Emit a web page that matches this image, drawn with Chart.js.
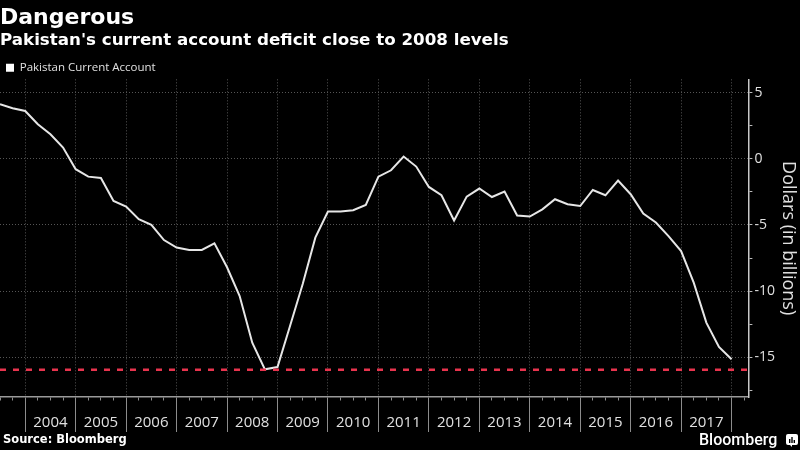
<!DOCTYPE html>
<html><head><meta charset="utf-8">
<script src="https://cdn.jsdelivr.net/npm/chart.js@4/dist/chart.umd.min.js"></script>
<style>
html,body{margin:0;padding:0;background:#000;}
#wrap{position:relative;width:800px;height:450px;background:#000;overflow:hidden;}
#c{position:absolute;left:0;top:0;}
#src{position:absolute;left:3px;top:434.3px;font:bold 11.5px/11.5px "DejaVu Sans";color:#fff;white-space:nowrap;}
#logo{position:absolute;left:699px;top:431.5px;font:500 16px/16px Roboto;color:#fff;white-space:nowrap;}
#icon{position:absolute;left:786px;top:434px;}
</style></head><body>
<div id="wrap">
<canvas id="c" width="800" height="450"></canvas>
<div id="src">Source: Bloomberg</div>
<div id="logo">Bloomberg</div>
<svg id="icon" width="12" height="13" viewBox="0 0 12 13"><rect x="0" y="0" width="12" height="11" rx="2" fill="#fff"/><path d="M4 11 L6 13 L6 11 Z" fill="#fff"/><rect x="3" y="5" width="1.4" height="4" fill="#000"/><rect x="5.3" y="3" width="1.4" height="6" fill="#000"/><rect x="7.6" y="6" width="1.4" height="3" fill="#000"/></svg>
</div>
<script>
// Quarter-end dates (year-month)
const quarters = [
 "2003-06","2003-09","2003-12",
 "2004-03","2004-06","2004-09","2004-12",
 "2005-03","2005-06","2005-09","2005-12",
 "2006-03","2006-06","2006-09","2006-12",
 "2007-03","2007-06","2007-09","2007-12",
 "2008-03","2008-06","2008-09","2008-12",
 "2009-03","2009-06","2009-09","2009-12",
 "2010-03","2010-06","2010-09","2010-12",
 "2011-03","2011-06","2011-09","2011-12",
 "2012-03","2012-06","2012-09","2012-12",
 "2013-03","2013-06","2013-09","2013-12",
 "2014-03","2014-06","2014-09","2014-12",
 "2015-03","2015-06","2015-09","2015-12",
 "2016-03","2016-06","2016-09","2016-12",
 "2017-03","2017-06","2017-09","2017-12"
];
// Pakistan current account (USD billions)
const currentAccount = [
 4.12, 3.82, 3.61,
 2.61, 1.85, 0.85, -0.79,
 -1.35, -1.45, -3.19, -3.61,
 -4.57, -5.00, -6.14, -6.71,
 -6.89, -6.89, -6.39, -8.20,
 -10.37, -13.90, -15.91, -15.74,
 -12.62, -9.47, -5.96, -3.99,
 -3.99, -3.89, -3.49, -1.35,
 -0.87, 0.17, -0.59, -2.13,
 -2.76, -4.67, -2.86, -2.25,
 -2.89, -2.48, -4.29, -4.37,
 -3.82, -3.06, -3.44, -3.57,
 -2.36, -2.76, -1.65, -2.68,
 -4.14, -4.82, -5.84, -6.97,
 -9.36, -12.38, -14.22, -15.15
];
const yearLabels = ["2004","2005","2006","2007","2008","2009","2010","2011","2012","2013","2014","2015","2016","2017"];
const deficit2008Level = -15.95;
const seriesName = "Pakistan Current Account";

const toYear = s => { const [y, m] = s.split("-").map(Number); return y + m / 12; };
const xVals = quarters.map(toYear);
const xMin = 2003.5, xMax = 2018 + 4 / 12;
const isYear = v => Math.abs(v - Math.round(v)) < 1e-6;

const FONT = "'Open Sans', 'Noto Sans', sans-serif";

new Chart(document.getElementById('c'), {
  type: 'line',
  data: {
    datasets: [
      {
        label: seriesName,
        data: xVals.map((x, i) => ({x, y: currentAccount[i]})),
        borderColor: '#e6e6e6', backgroundColor: '#ffffff',
        borderWidth: 2, pointRadius: 0, tension: 0, order: 2
      },
      {
        label: '2008 level',
        data: [{x: xMin, y: deficit2008Level}, {x: xMax, y: deficit2008Level}],
        borderColor: '#e8344e', borderWidth: 2.5, borderDash: [6, 7],
        pointRadius: 0, order: 1
      }
    ]
  },
  options: {
    responsive: false, animation: false, devicePixelRatio: 1,
    layout: { padding: { left: 0, right: 1.5, top: 0, bottom: 17 } },
    plugins: {
      title: {
        display: true, text: 'Dangerous', align: 'start', color: '#ffffff',
        font: { family: "'DejaVu Sans', sans-serif", size: 22, weight: 'bold', lineHeight: 1 },
        padding: { top: 7.5, bottom: 0 }
      },
      subtitle: {
        display: true, text: "Pakistan's current account deficit close to 2008 levels", align: 'start', color: '#ffffff',
        font: { family: "'DejaVu Sans', sans-serif", size: 16.7, weight: 'bold', lineHeight: 1.2 },
        padding: { top: 1.5, bottom: 5 }
      },
      legend: {
        display: true, align: 'start', maxHeight: 23.3,
        labels: {
          color: '#e0e0e0', boxWidth: 8, boxHeight: 8, padding: 6,
          font: { family: FONT, size: 11.5 },
          generateLabels: chart => Chart.defaults.plugins.legend.labels.generateLabels(chart)
            .filter(l => l.datasetIndex === 0)
            .map(l => Object.assign(l, { lineWidth: 0, fillStyle: '#ffffff', strokeStyle: '#ffffff' }))
        }
      },
      tooltip: { enabled: false }
    },
    scales: {
      x: {
        type: 'linear', min: xMin, max: xMax,
        afterBuildTicks: s => {
          const t = [];
          for (let q = 0; xMin + q * 0.25 <= xMax + 1e-9; q++) t.push({ value: xMin + q * 0.25 });
          s.ticks = t;
        },
        grid: {
          color: c => (c.tick && isYear(c.tick.value)) ? '#555555' : 'rgba(0,0,0,0)',
          lineWidth: 1, drawTicks: true, tickLength: 35,
          tickColor: '#8c8c8c', tickWidth: 1,
          tickBorderDash: c => (c.tick && isYear(c.tick.value)) ? [] : [3, 100]
        },
        border: { display: true, color: '#9a9a9a', width: 1.5, dash: [1, 2] },
        ticks: {
          autoSkip: false, maxRotation: 0, minRotation: 0,
          labelOffset: 25.2, padding: -18, color: '#e0e0e0',
          font: { family: FONT, size: 15 },
          callback: v => {
            if (!isYear(v)) return '';
            const s = String(Math.round(v));
            return yearLabels.includes(s) ? s : '';
          }
        },
        title: { display: true, text: ' ', font: { size: 1, lineHeight: 1 }, padding: { top: 0, bottom: 18 } }
      },
      y: {
        position: 'right', min: -18, max: 6,
        afterBuildTicks: s => {
          const t = [];
          for (let k = -7; k <= 2; k++) t.push({ value: k * 2.5 });
          s.ticks = t;
        },
        grid: {
          color: c => (c.tick && c.tick.value % 5 === 0) ? '#555555' : 'rgba(0,0,0,0)',
          lineWidth: 1, drawTicks: true, tickLength: 4, tickColor: '#bbbbbb'
        },
        border: { display: true, color: '#c8c8c8', width: 1.5, dash: [1, 2] },
        ticks: {
          color: '#e0e0e0', padding: 2, font: { family: FONT, size: 14 },
          callback: v => (v % 5 === 0) ? String(v) : ''
        },
        title: {
          display: true, text: 'Dollars (in billions)', color: '#e0e0e0',
          font: { family: FONT, size: 18 }, padding: 0
        }
      }
    }
  }
});
</script>
</body></html>
